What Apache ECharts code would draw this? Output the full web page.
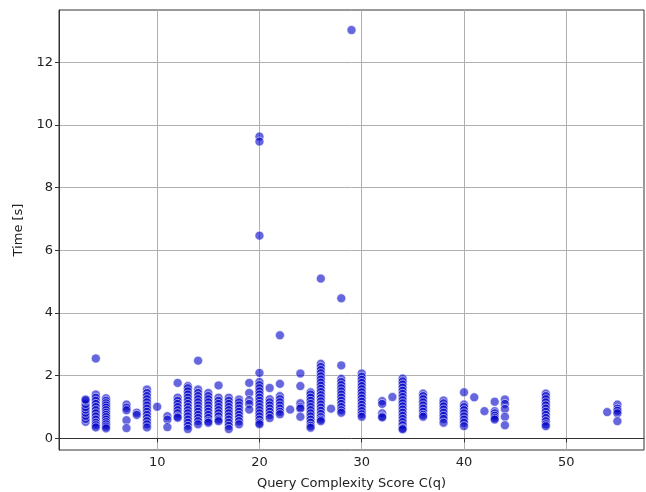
<!DOCTYPE html>
<html>
<head>
<meta charset="utf-8">
<script src="https://cdn.jsdelivr.net/npm/echarts@6/dist/echarts.min.js"></script>
<style>
  html, body { margin: 0; padding: 0; background: #fff; }
  #chart { width: 646px; height: 492px; }
</style>
</head>
<body>
<div id="chart"></div>
<script>
// complexity score of each column and the times measured at it
const scores = [3, 4, 5, 7, 8, 9, 10, 11, 12, 13, 14, 15, 16, 17, 18, 19, 20, 21, 22, 23, 24, 25,
  26, 27, 28, 29, 30, 32, 33, 34, 36, 38, 40, 41, 42, 43, 44, 48, 54, 55];

const times = [
  [0.53, 0.62, 0.72, 0.82, 0.92, 1.0, 1.1, 1.2, 1.24],
  [2.55, 1.4, 1.3, 1.2, 1.1, 1.0, 0.9, 0.8, 0.7, 0.6, 0.5, 0.42, 0.35],
  [1.28, 1.2, 1.12, 1.05, 0.98, 0.9, 0.82, 0.75, 0.68, 0.6, 0.52, 0.45, 0.38, 0.32],
  [1.08, 0.98, 0.9, 0.58, 0.33],
  [0.82, 0.75],
  [1.56, 1.45, 1.35, 1.25, 1.15, 1.05, 0.95, 0.85, 0.75, 0.65, 0.55, 0.45, 0.35],
  [1.01],
  [0.71, 0.6, 0.36],
  [1.77, 1.3, 1.2, 1.1, 1.0, 0.9, 0.8, 0.7, 0.66],
  [1.67, 1.6, 1.5, 1.4, 1.3, 1.2, 1.1, 1.0, 0.9, 0.8, 0.7, 0.6, 0.5, 0.4, 0.3],
  [2.48, 1.56, 1.45, 1.35, 1.25, 1.15, 1.05, 0.95, 0.85, 0.75, 0.65, 0.55, 0.45],
  [1.45, 1.35, 1.25, 1.15, 1.05, 0.95, 0.85, 0.75, 0.65, 0.55, 0.5],
  [1.69, 1.3, 1.2, 1.1, 1.0, 0.9, 0.8, 0.7, 0.6, 0.55],
  [1.3, 1.2, 1.1, 1.0, 0.9, 0.8, 0.7, 0.6, 0.5, 0.4, 0.3],
  [1.24, 1.15, 1.05, 0.95, 0.85, 0.75, 0.65, 0.55, 0.45],
  [1.77, 1.45, 1.22, 1.1, 0.92],
  [9.63, 9.47, 6.47, 2.09, 1.8, 1.7, 1.6, 1.5, 1.4, 1.3, 1.2, 1.1, 1.0, 0.9, 0.8, 0.7, 0.6, 0.5, 0.45],
  [1.61, 1.25, 1.15, 1.05, 0.95, 0.85, 0.75, 0.65],
  [3.29, 1.74, 1.35, 1.25, 1.15, 1.05, 0.95, 0.85, 0.77],
  [0.92],
  [2.07, 1.67, 1.12, 1.0, 0.95, 0.69],
  [1.47, 1.4, 1.3, 1.2, 1.1, 1.0, 0.9, 0.8, 0.7, 0.6, 0.5, 0.4, 0.34],
  [5.1, 2.38, 2.28, 2.18, 2.08, 1.98, 1.88, 1.78, 1.68, 1.58, 1.48, 1.38, 1.28, 1.18, 1.08, 0.98, 0.88, 0.78, 0.68, 0.6, 0.55],
  [0.95],
  [4.47, 2.33, 1.9, 1.8, 1.7, 1.6, 1.5, 1.4, 1.3, 1.2, 1.1, 1.0, 0.9, 0.82],
  [13.03],
  [2.07, 1.97, 1.87, 1.77, 1.67, 1.57, 1.47, 1.37, 1.27, 1.17, 1.07, 0.97, 0.87, 0.77, 0.69],
  [1.19, 1.1, 0.8, 0.7, 0.67],
  [1.32],
  [1.91, 1.82, 1.72, 1.62, 1.52, 1.42, 1.32, 1.22, 1.12, 1.02, 0.92, 0.82, 0.72, 0.62, 0.52, 0.42, 0.32, 0.29],
  [1.43, 1.35, 1.25, 1.15, 1.05, 0.95, 0.85, 0.75, 0.69],
  [1.21, 1.12, 1.02, 0.92, 0.82, 0.72, 0.62, 0.5],
  [1.47, 1.08, 1.0, 0.9, 0.8, 0.7, 0.6, 0.5, 0.39],
  [1.31],
  [0.87],
  [1.17, 0.87, 0.8, 0.72, 0.65, 0.6],
  [1.24, 1.1, 0.94, 0.69, 0.42],
  [1.43, 1.35, 1.25, 1.15, 1.05, 0.95, 0.85, 0.75, 0.65, 0.55, 0.45, 0.39],
  [0.84],
  [1.08, 0.95, 0.88, 0.8, 0.55]
];

const xTicks = [10, 20, 30, 40, 50];
const yTicks = [0, 2, 4, 6, 8, 10, 12];

const points = [];
scores.forEach((s, i) => times[i].forEach((t) => points.push([s, t])));

const axisText = { color: '#222', fontSize: 13, fontFamily: 'DejaVu Sans' };
const gridLine = { show: true, lineStyle: { color: '#b0b0b0', width: 1 } };

const chart = echarts.init(document.getElementById('chart'), null, { renderer: 'canvas' });
chart.setOption({
  animation: false,
  grid: {
    left: 59, right: 2, top: 10, bottom: 42,
    outerBoundsMode: 'none',
    show: true, borderColor: '#333', borderWidth: 1,
  },
  xAxis: {
    type: 'value',
    min: 0.4,
    max: 57.6,
    name: 'Query Complexity Score C(q)',
    nameLocation: 'middle',
    nameGap: 27,
    nameTextStyle: axisText,
    axisLine: { show: true, lineStyle: { color: '#333' } },
    axisTick: { show: true, length: 4, customValues: xTicks, lineStyle: { color: '#333' } },
    axisLabel: { ...axisText, margin: 6, customValues: xTicks },
    splitLine: { ...gridLine, customValues: xTicks },
  },
  yAxis: {
    type: 'value',
    min: -0.37,
    max: 13.67,
    name: 'Time [s]',
    nameLocation: 'middle',
    nameGap: 34,
    nameTextStyle: axisText,
    axisLine: { show: true, lineStyle: { color: '#333' } },
    axisTick: { show: true, length: 4, customValues: yTicks, lineStyle: { color: '#333' } },
    axisLabel: { ...axisText, margin: 6, customValues: yTicks },
    splitLine: { ...gridLine, customValues: yTicks },
  },
  series: [
    {
      type: 'scatter',
      data: points,
      symbolSize: 9,
      itemStyle: { color: 'rgba(0,0,200,0.75)', borderColor: '#fff', borderWidth: 0.7 },
    },
  ],
});
</script>
</body>
</html>
